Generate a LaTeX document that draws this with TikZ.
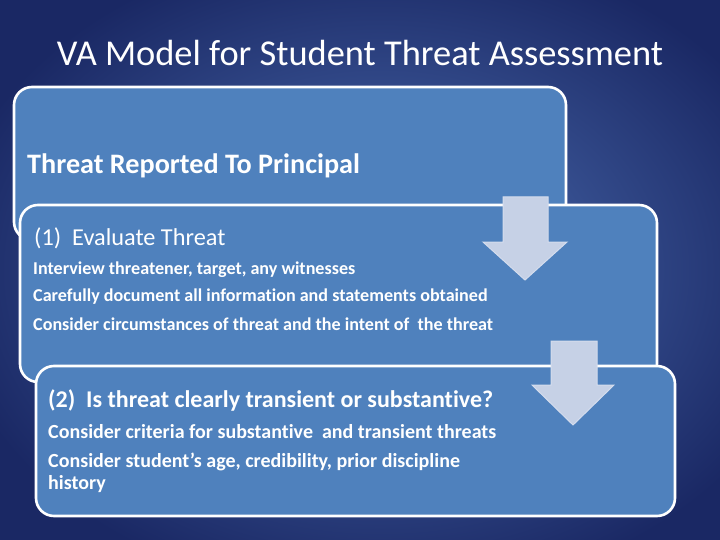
\documentclass[tikz,border=0pt]{standalone}
\usepackage{fontspec}
\setmainfont{Carlito}[Ligatures=NoCommon]
\definecolor{bgin}{RGB}{78,112,180}
\definecolor{bgout}{RGB}{26,40,100}
\definecolor{boxfill}{RGB}{79,129,189}
\definecolor{arrfill}{RGB}{198,209,230}
\definecolor{arredge}{RGB}{212,220,237}
\tikzset{
  panel/.style={draw=white, line width=2.6pt, fill=boxfill, rounded corners=18pt},
  downarrow/.style={fill=arrfill, draw=arredge, line width=1pt},
  txt/.style={text=white, anchor=west, inner sep=0pt, align=left},
}
\begin{document}
\begin{tikzpicture}[x=1pt,y=-1pt]
\useasboundingbox (0,0) rectangle (720,540);
\shade[inner color=bgin, outer color=bgout] (-60,-60) rectangle (820,600);
\node[txt, anchor=center, font=\fontsize{36.4}{40}\selectfont] (title) at (360,53) {VA Model for Student Threat Assessment};
% box 1
\draw[panel] (14,87) rectangle (566,240);
\node[txt, font=\fontsize{28.2}{32}\selectfont\bfseries] (t1) at (27,166) {Threat Reported To Principal};
% box 2
\draw[panel] (20,205) rectangle (657,382);
\node[txt, font=\fontsize{24.3}{28}\selectfont] (h2) at (34,238) {(1)\ \ Evaluate Threat};
\node[txt, font=\fontsize{18.1}{21}\selectfont\bfseries] (l21) at (33,270) {Interview threatener, target, any witnesses};
\node[txt, font=\fontsize{18.1}{21}\selectfont\bfseries] (l22) at (33,297) {Carefully document all information and statements obtained};
\node[txt, font=\fontsize{18.1}{21}\selectfont\bfseries] (l23) at (33,324) {Consider circumstances of threat and the intent of\ \ the threat};
% arrow 1
\draw[downarrow] (503,197) -- (548,197) -- (548,242) -- (567,242) -- (525,280) -- (483,242) -- (503,242) -- cycle;
% box 3
\draw[panel] (36,366) rectangle (675,516);
\node[txt, font=\fontsize{24}{28}\selectfont\bfseries] (h3) at (48,400) {(2)\ \ Is threat clearly transient or substantive?};
\node[txt, font=\fontsize{20}{24}\selectfont\bfseries] (l31) at (48,432) {Consider criteria for substantive\ \ and transient threats};
\node[txt, font=\fontsize{20}{22}\selectfont\bfseries, align=left] (l32) at (48,473) {Consider student’s age, credibility, prior discipline\\history};
% arrow 2
\draw[downarrow] (551,341) -- (597,341) -- (597,385) -- (614,385) -- (573,425) -- (532,385) -- (551,385) -- cycle;
\end{tikzpicture}
\end{document}
